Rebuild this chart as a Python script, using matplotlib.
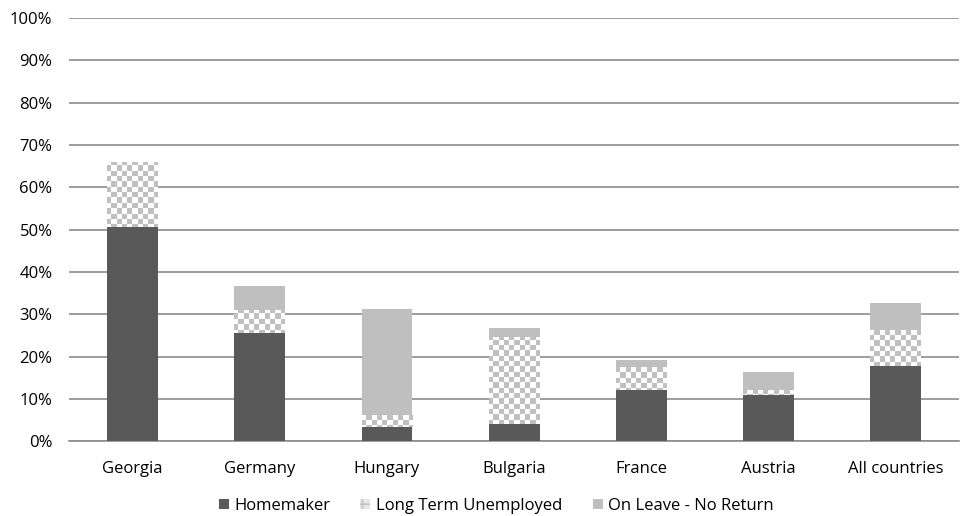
import matplotlib.pyplot as plt
import numpy as np
from matplotlib.patches import Patch

countries = ['Georgia', 'Germany', 'Hungary', 'Bulgaria', 'France', 'Austria', 'All countries']
homemaker = [50.6, 25.5, 3.3, 4.0, 12.1, 11.0, 17.7]
long_term = [15.4, 5.5, 2.8, 20.6, 5.4, 1.1, 8.5]
on_leave = [0.0, 5.6, 25.1, 2.1, 1.8, 4.3, 6.5]

dark = '#595959'
light = '#bfbfbf'
plt.rcParams['font.family'] = ['Open Sans', 'DejaVu Sans']

fig = plt.figure(figsize=(9.6, 5.16), dpi=100)
ax = fig.add_axes([0.072, 0.145, 0.927, 0.82])

x = np.arange(len(countries))
w = 0.4
hm = np.array(homemaker)
lt = np.array(long_term)
ol = np.array(on_leave)

ax.bar(x, hm, w, color=dark, zorder=3)
lt_bars = ax.bar(x, lt, w, bottom=hm, color='white', zorder=3)
ax.bar(x, ol, w, bottom=hm + lt, color=light, zorder=3)

ax.set_xlim(-0.5, len(countries) - 0.5)
ax.set_ylim(0, 100)

# checkerboard fill for the long-term unemployed segments
nx, ny = 168, 80
checker = (np.indices((ny, nx)).sum(axis=0) % 2).astype(float)
for bar in lt_bars:
    im = ax.imshow(checker, extent=(-0.5, len(countries) - 0.5, 0, 100),
                   cmap='gray', vmin=-3.0, vmax=1.0, aspect='auto',
                   interpolation='nearest', origin='lower', zorder=4)
    im.set_clip_path(bar)

ax.set_yticks(np.arange(0, 101, 10))
ax.set_yticklabels([f'{v}%' for v in range(0, 101, 10)])
ax.set_xticks(x)
ax.set_xticklabels(countries)
ax.tick_params(axis='y', length=0, pad=12, labelsize=12, colors='#000000')
ax.tick_params(axis='x', length=0, pad=14, labelsize=12)
ax.yaxis.grid(True, color='#8c8c8c', linewidth=1.2, zorder=0)
for s in ['top', 'right', 'left']:
    ax.spines[s].set_visible(False)
ax.spines['bottom'].set_color('#8c8c8c')
ax.spines['bottom'].set_linewidth(1.2)

handles = [Patch(facecolor=dark, label='Homemaker'),
           Patch(facecolor='#e6e6e6', edgecolor=light, hatch='++', linewidth=0, label='Long Term Unemployed'),
           Patch(facecolor=light, label='On Leave - No Return')]
fig.legend(handles=handles, loc='lower center', bbox_to_anchor=(0.517, -0.025), ncol=3,
           frameon=False, fontsize=12, handlelength=0.6, handleheight=0.6,
           columnspacing=1.8, handletextpad=0.35)

fig.savefig('out.png', dpi=100)
